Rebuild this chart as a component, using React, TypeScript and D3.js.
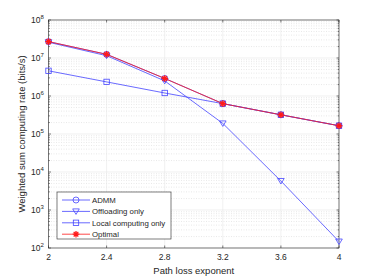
import React, { useEffect, useRef } from 'react';
import * as d3 from 'd3';

// path loss exponent
const exponents = [2, 2.4, 2.8, 3.2, 3.6, 4];
const admm = [2.7e7, 1.25e7, 2.9e6, 6.3e5, 3.2e5, 1.65e5];
const offloading = [2.6e7, 1.15e7, 2.5e6, 1.9e5, 5.8e3, 148];
const localOnly = [4.6e6, 2.35e6, 1.2e6, 6.3e5, 3.2e5, 1.65e5];
const optimal = [2.7e7, 1.25e7, 2.9e6, 6.3e5, 3.2e5, 1.65e5];
const xTicks = [2, 2.4, 2.8, 3.2, 3.6, 4];
const yExps = [2, 3, 4, 5, 6, 7, 8];
const legendLabels = ['ADMM', 'Offloading only', 'Local computing only', 'Optimal'];

const BLUE = '#4444ff';
const RED = '#ff1a1a';
const AX = '#262626';
const FONT = '"Liberation Sans", Arial, sans-serif';

export default function App() {
  const svgRef = useRef<SVGSVGElement>(null);

  useEffect(() => {
    const svg = d3.select(svgRef.current);
    svg.selectAll('*').remove();

    const width = 374;
    const height = 280;
    const margin = { top: 20, right: 35, bottom: 32, left: 48.5 };

    const x = d3.scaleLinear()
      .domain([2, 4])
      .range([margin.left, width - margin.right]);
    const y = d3.scaleLog()
      .domain([1e2, 1e8])
      .range([height - margin.bottom, margin.top]);

    svg.append('rect').attr('width', width).attr('height', height).attr('fill', 'white');

    // grid
    const grid = svg.append('g');
    const minors: number[] = [];
    for (let e = 2; e < 8; e++) for (let m = 2; m < 10; m++) minors.push(m * Math.pow(10, e));
    grid.selectAll('.minor').data(minors).join('line')
      .attr('x1', margin.left).attr('x2', width - margin.right)
      .attr('y1', d => y(d)).attr('y2', d => y(d))
      .attr('stroke', '#d0d0d0').attr('stroke-width', 0.5).attr('stroke-dasharray', '1,1.5');
    grid.selectAll('.hmaj').data(yExps).join('line')
      .attr('x1', margin.left).attr('x2', width - margin.right)
      .attr('y1', d => y(Math.pow(10, d))).attr('y2', d => y(Math.pow(10, d)))
      .attr('stroke', '#e6e6e6').attr('stroke-width', 0.6);
    grid.selectAll('.vmaj').data(xTicks).join('line')
      .attr('x1', d => x(d)).attr('x2', d => x(d))
      .attr('y1', margin.top).attr('y2', height - margin.bottom)
      .attr('stroke', '#e6e6e6').attr('stroke-width', 0.6);

    // axes box
    svg.append('rect')
      .attr('x', margin.left).attr('y', margin.top)
      .attr('width', width - margin.left - margin.right)
      .attr('height', height - margin.top - margin.bottom)
      .attr('fill', 'none').attr('stroke', AX).attr('stroke-width', 0.6);

    // ticks
    const tk = svg.append('g').attr('stroke', AX).attr('stroke-width', 0.6);
    xTicks.forEach(t => {
      tk.append('line').attr('x1', x(t)).attr('x2', x(t))
        .attr('y1', height - margin.bottom).attr('y2', height - margin.bottom - 2.5);
      tk.append('line').attr('x1', x(t)).attr('x2', x(t))
        .attr('y1', margin.top).attr('y2', margin.top + 2.5);
    });
    yExps.forEach(e => {
      const yy = y(Math.pow(10, e));
      tk.append('line').attr('x1', margin.left).attr('x2', margin.left + 2.5).attr('y1', yy).attr('y2', yy);
      tk.append('line').attr('x1', width - margin.right).attr('x2', width - margin.right - 2.5).attr('y1', yy).attr('y2', yy);
    });
    minors.forEach(m => {
      const yy = y(m);
      tk.append('line').attr('x1', margin.left).attr('x2', margin.left + 1.3).attr('y1', yy).attr('y2', yy);
      tk.append('line').attr('x1', width - margin.right).attr('x2', width - margin.right - 1.3).attr('y1', yy).attr('y2', yy);
    });

    // tick labels
    svg.append('g').selectAll('text').data(xTicks).join('text')
      .attr('x', d => x(d)).attr('y', height - margin.bottom + 12)
      .attr('text-anchor', 'middle').attr('font-family', FONT).attr('font-size', 8.5)
      .attr('fill', AX).text(d => String(d));
    const yl = svg.append('g');
    yExps.forEach(e => {
      const t = yl.append('text')
        .attr('x', margin.left - 17.5).attr('y', y(Math.pow(10, e)) + 3.2)
        .attr('font-family', FONT).attr('font-size', 8.5).attr('fill', AX);
      t.append('tspan').text('10');
      t.append('tspan').attr('font-size', 6).attr('dy', -3.8).text(String(e));
    });

    // axis titles
    svg.append('text')
      .attr('x', (margin.left + width - margin.right) / 2).attr('y', height - 6)
      .attr('text-anchor', 'middle').attr('font-family', FONT).attr('font-size', 9.5)
      .attr('fill', AX).text('Path loss exponent');
    svg.append('text')
      .attr('transform', `translate(25,${(margin.top + height - margin.bottom) / 2}) rotate(-90)`)
      .attr('text-anchor', 'middle').attr('font-family', FONT).attr('font-size', 9.5)
      .attr('fill', AX).text('Weighted sum computing rate (bits/s)');

    const line = d3.line<number>()
      .x((_, i) => x(exponents[i]))
      .y(d => y(d));

    const series = [
      { data: admm, color: BLUE, marker: 'circle' },
      { data: offloading, color: BLUE, marker: 'tri' },
      { data: localOnly, color: BLUE, marker: 'square' },
      { data: optimal, color: RED, marker: 'star' },
    ];

    const drawMarker = (g: any, kind: string, cx: number, cy: number, color: string) => {
      if (kind === 'circle') {
        g.append('circle').attr('cx', cx).attr('cy', cy).attr('r', 3)
          .attr('fill', 'none').attr('stroke', color).attr('stroke-width', 0.8);
      } else if (kind === 'tri') {
        g.append('path').attr('d', `M${cx - 3.3},${cy - 2.5}L${cx + 3.3},${cy - 2.5}L${cx},${cy + 3}Z`)
          .attr('fill', 'none').attr('stroke', color).attr('stroke-width', 0.8);
      } else if (kind === 'square') {
        g.append('rect').attr('x', cx - 2.7).attr('y', cy - 2.7).attr('width', 5.4).attr('height', 5.4)
          .attr('fill', 'none').attr('stroke', color).attr('stroke-width', 0.8);
      } else {
        const r = 3.3;
        const d = [0, 45, 90, 135].map(a => {
          const rad = (a * Math.PI) / 180;
          return `M${cx - r * Math.cos(rad)},${cy - r * Math.sin(rad)}L${cx + r * Math.cos(rad)},${cy + r * Math.sin(rad)}`;
        }).join('');
        g.append('path').attr('d', d).attr('stroke', color).attr('stroke-width', 1.3);
      }
    };

    series.forEach(s => {
      const g = svg.append('g');
      g.append('path').datum(s.data).attr('d', line)
        .attr('fill', 'none').attr('stroke', s.color).attr('stroke-width', 0.8);
      s.data.forEach((v, i) => drawMarker(g, s.marker, x(exponents[i]), y(v), s.color));
    });

    // legend
    const lg = svg.append('g');
    const lx = 57;
    const ly = 192;
    lg.append('rect').attr('x', lx).attr('y', ly).attr('width', 114).attr('height', 47)
      .attr('fill', 'white').attr('stroke', AX).attr('stroke-width', 0.6);
    series.forEach((s, i) => {
      const yy = ly + 8 + i * 11.4;
      lg.append('line').attr('x1', lx + 5).attr('x2', lx + 33).attr('y1', yy).attr('y2', yy)
        .attr('stroke', s.color).attr('stroke-width', 0.8);
      drawMarker(lg, s.marker, lx + 19, yy, s.color);
      lg.append('text').attr('x', lx + 35).attr('y', yy + 2.8)
        .attr('font-family', FONT).attr('font-size', 7.8).attr('fill', AX).text(legendLabels[i]);
    });
  }, []);

  return (
    <svg
      ref={svgRef}
      width={374}
      height={280}
      style={{ position: 'absolute', left: 0, top: 0, backgroundColor: 'white' }}
    />
  );
}
